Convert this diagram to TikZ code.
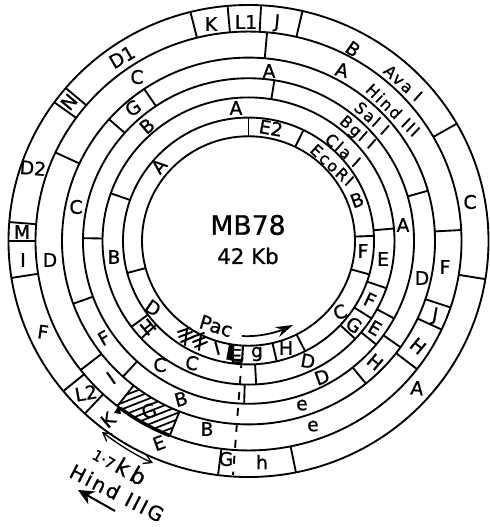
\documentclass[tikz,border=0pt]{standalone}
\usepackage{fontspec}
\setmainfont[FakeBold=1]{DejaVu Sans}
\newfontfamily\basefont[FakeBold=1]{DejaVu Sans}
\newfontfamily\spacedfont[LetterSpace=12,FakeBold=1]{DejaVu Sans}
\usetikzlibrary{arrows.meta}
\newcounter{lb}
\newcommand{\lab}[4]{\stepcounter{lb}\node[lbl,rotate=#3,name=n\arabic{lb}] at (#1,#2) {#4};}
\newcommand{\enz}[4]{\stepcounter{lb}\node[enzlbl,rotate=#3,name=n\arabic{lb}] at (#1,#2) {#4};}
\def\RA{240}\def\RB{213}\def\RC{186.5}\def\RD{165.5}\def\RE{146}\def\RF{125.5}\def\RG{106.5}
\tikzset{
  ringline/.style={line width=1.4pt,black},
  lbl/.style={font=\basefont\fontsize{14}{14}\selectfont,inner sep=0pt,text=black},
  enzlbl/.style={font=\spacedfont\fontsize{12}{12}\selectfont,inner sep=0pt,text=black},
  hatchline/.style={line width=1.3pt},
  scribble/.style={line width=1.5pt,line cap=round},
  guide/.style={line width=1.4pt,dash pattern=on 6pt off 6pt},
  dim/.style={line width=1pt,{Straight Barb[length=6pt,width=7pt]}-{Straight Barb[length=6pt,width=7pt]}},
  pacarrow/.style={line width=1.3pt,-{Stealth[length=13pt,width=8pt]}},
  dirarrow/.style={line width=1.5pt,-{Stealth[length=12pt,width=11pt]}}
}
\begin{document}
\begin{tikzpicture}[x=.75pt,y=-.75pt]
\useasboundingbox (0,0) rectangle (489,527);
\begin{scope}[shift={(248.5,241)},x=.75pt,y=.7375pt]
  % hatched fragment
  \begin{scope}
    \clip (232:\RC) arc[start angle=232,end angle=248.3,radius=\RC] -- (248.3:\RB) arc[start angle=248.3,end angle=232,radius=\RB] -- cycle;
    \foreach \k in {0,1,...,14}
      \draw[hatchline] (-150,-226+\k*6.5) -- ++(100,40);
  \end{scope}
  \foreach \r in {\RA,\RB,\RC,\RD,\RE,\RF,\RG}
    \draw[ringline] (0,0) circle[radius=\r];
  \draw[line width=2.6pt] (233:\RB) arc[start angle=233,end angle=248.3,radius=\RB];
  \foreach \a in {104,95,87,77,29.8,-9.3,-78.6,-97.3,-133,-140.5,189,180,175.4,144,139.6}
    \draw[ringline] (\a:\RB) -- (\a:\RA);
  \foreach \a in {85,155,3,-18.5,-25,-37.7,218,232,248.3}
    \draw[ringline] (\a:\RC) -- (\a:\RB);
  \foreach \a in {124,138.4,200,227.7,15.9,-35.4,-51}
    \draw[ringline] (\a:\RD) -- (\a:\RC);
  \foreach \a in {81,179,-28.4,-39.5,-91.5}
    \draw[ringline] (\a:\RE) -- (\a:\RD);
  \foreach \a in {5,160.6,-19.2,-32.6,-43,-87,216.7,222.7}
    \draw[ringline] (\a:\RF) -- (\a:\RE);
  \foreach \a in {90,64,2.4,-15.7,-63.2,-77,195}
    \draw[ringline] (\a:\RG) -- (\a:\RF);
  % small dark box near the pac site
  \fill (259.5:\RG) -- (259.5:\RF-3) -- (262.5:\RF-3) -- (262.5:\RG) -- cycle;
  \draw[line width=1.6pt] (260.5:\RF-4) arc[start angle=260.5,end angle=267,radius=\RF-4] -- (267:\RG);
\end{scope}
% scribbled-out fragment
\foreach \dx/\dy in {0/0,14/5}{
  \draw[scribble] (178+\dx,332+\dy) -- (190+\dx,328+\dy);
  \draw[scribble] (179+\dx,337+\dy) -- (192+\dx,332+\dy);
  \draw[scribble] (181+\dx,342+\dy) -- (193+\dx,337+\dy);
  \draw[scribble] (187+\dx,329+\dy) -- (185+\dx,345+\dy);
}
% outer ring labels
\lab{211}{24}{0}{K}
\lab{246}{22}{0}{L1}
\lab{277}{23}{-5}{J}
\lab{353}{49}{-35}{B}
\enz{403}{83}{-42}{Ava I}
\lab{470}{202}{0}{C}
\lab{417}{388}{-5}{A}
\lab{262}{462}{0}{h}
\lab{226}{459}{0}{G}
\lab{159}{443}{20}{E}
\lab{108}{420}{40}{K}
\lab{86}{393}{10}{L2}
\lab{43}{332}{-8}{F}
\lab{23}{260}{0}{I}
\lab{22}{232}{0}{M}
\lab{33}{168}{-5}{D2}
\lab{69}{102}{50}{N}
\lab{122}{57}{30}{D1}
% second ring
\lab{342}{70}{-15}{A}
\enz{393}{110}{-44}{Hind III}
\lab{445}{267}{0}{F}
\lab{435}{316}{-10}{J}
\lab{418}{346}{-40}{H}
\lab{313}{426}{0}{e}
\lab{207}{429}{0}{B}
\lab{149}{411}{20}{G}
\lab{111}{378}{35}{I}
\lab{50}{260}{0}{D}
\lab{137}{77}{0}{C}
% third ring
\lab{269}{71}{0}{A}
\enz{372}{118}{-42}{Sal I}
\lab{422}{278}{0}{D}
\lab{375}{362}{-40}{H}
\lab{302}{405}{0}{e}
\lab{181}{399}{15}{B}
\lab{104}{338}{30}{F}
\lab{76}{207}{0}{C}
\lab{133}{108}{35}{G}
% fourth ring
\lab{147}{126}{40}{B}
\lab{403}{225}{0}{A}
\enz{357}{133}{-41}{Bgl I}
\lab{375}{328}{-30}{E}
\lab{322}{377}{20}{D}
\lab{160}{365}{0}{C}
% fifth ring
\lab{236}{108}{0}{A}
\lab{114}{257}{0}{B}
\enz{343}{150}{-42}{Cla I}
\lab{383}{259}{0}{E}
\lab{370}{300}{-25}{F}
\lab{354}{325}{-35}{G}
\lab{308}{361}{-10}{D}
\lab{192}{363}{-10}{C}
\lab{148}{327}{40}{H}
% inner ring
\lab{159}{166}{50}{A}
\lab{271}{128}{-10}{E2}
\enz{332}{165}{-43}{EcoRI}
\lab{357}{200}{20}{B}
\lab{363}{251}{0}{F}
\lab{340}{312}{20}{C}
\lab{286}{348}{0}{H}
\lab{257}{354}{0}{g}
\lab{236}{356}{0}{E}
\lab{217}{348}{15}{I}
\lab{153}{308}{-35}{D}
% centre
\node[lbl,font=\basefont\fontsize{20}{20}\selectfont] (title) at (248,225) {MB78};
\node[lbl,font=\basefont\fontsize{16}{16}\selectfont] (size) at (248,256) {42 Kb};
% pac site
\node[lbl,font=\basefont\fontsize{14.5}{14.5}\selectfont,rotate=-17] (pac) at (216,326) {Pac};
\coordinate (pacs) at (242,336);
\coordinate (pace) at (293,325);
\draw[pacarrow] (pacs) .. controls (258,337) and (275,333) .. (pace);
% dashed guide
\coordinate (dashs) at (241.7,360);
\coordinate (dashe) at (233,475);
\draw[guide] (dashs) -- (dashe);
% marker
\fill (119,405) -- (121,414) -- (114,413) -- cycle;
% 1.7 kb
\coordinate (dims) at (102,432);
\coordinate (dime) at (153,463);
\draw[dim] (dims) .. controls (118,444) and (135,455) .. (dime);
\node[lbl,rotate=-30,font=\basefont\fontsize{17}{17}\selectfont] (kbt) at (120,465) {{\fontsize{11}{11}\selectfont 1·7\,}k\,b};
% HindIIIG
\node[lbl,rotate=-27,font=\spacedfont\fontsize{15}{15}\selectfont] (hind) at (117,493) {Hind IIIG};
\coordinate (dirs) at (115,511);
\coordinate (dire) at (78,490);
\draw[dirarrow] (dirs) -- (dire);
\end{tikzpicture}
\end{document}
